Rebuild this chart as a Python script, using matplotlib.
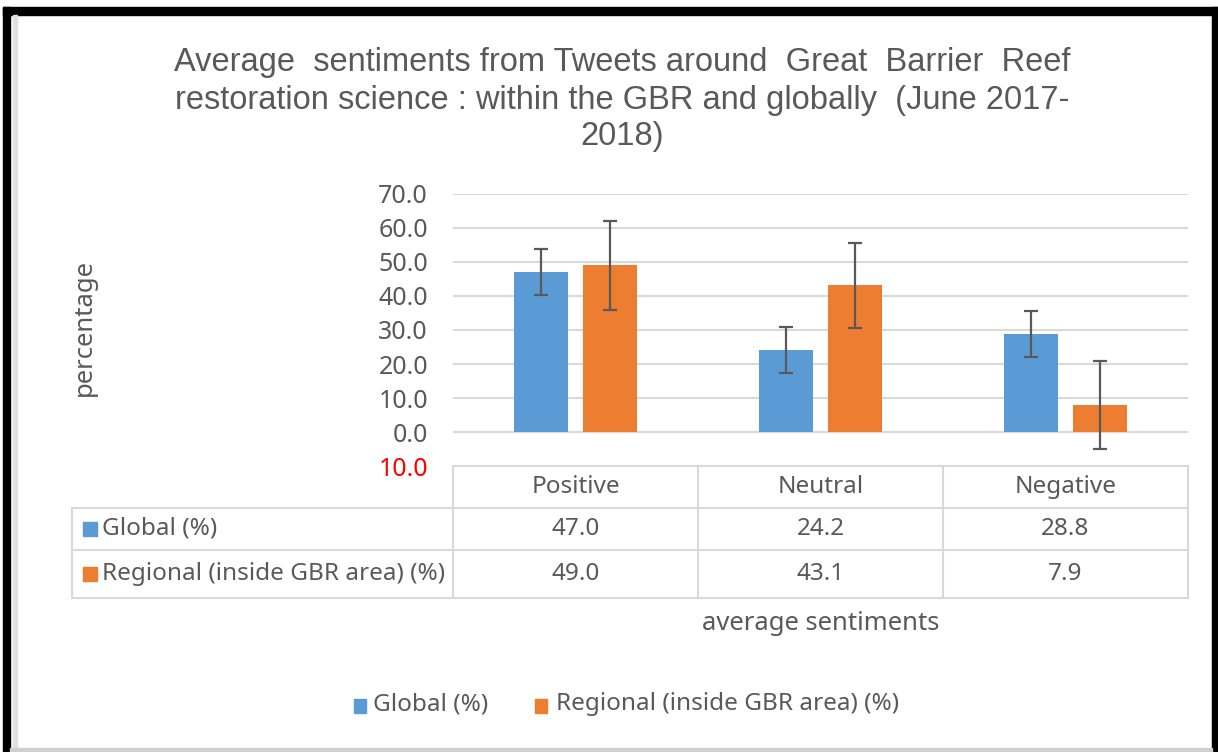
import numpy as np
import matplotlib
matplotlib.use("Agg")
import matplotlib.pyplot as plt
from matplotlib.patches import Rectangle
from matplotlib.lines import Line2D

# data
categories   = ["Positive", "Neutral", "Negative"]
series_names = ["Global (%)", "Regional (inside GBR area) (%)"]
global_vals   = [47.0, 24.2, 28.8]
regional_vals = [49.0, 43.1, 7.9]
global_err    = [6.8, 6.7, 6.8]
regional_err  = [13.0, 12.5, 13.0]
yticks = [-10, 0, 10, 20, 30, 40, 50, 60, 70]

BLUE   = "#5B9BD5"
ORANGE = "#ED7D31"
GRID   = "#D9D9D9"
TXT    = "#595959"
FONT   = "Noto Sans"

W, H = 1218, 752
fig = plt.figure(figsize=(W / 100, H / 100), dpi=100)


def fx(x):
    return x / W


def fy(y):
    return 1 - y / H


# plot area in pixel coords
x0, x1 = 453, 1188
y_top, y_bot = 194, 466
ax = fig.add_axes([fx(x0), fy(y_bot), fx(x1 - x0), (y_bot - y_top) / H])

x = np.arange(len(categories))
bw, off = 0.22, 0.14
ax.bar(x - off, global_vals, bw, color=BLUE, zorder=3)
ax.bar(x + off, regional_vals, bw, color=ORANGE, zorder=3)
ek = dict(fmt="none", ecolor="#595959", elinewidth=1.6, capsize=5, capthick=1.6, zorder=4)
ax.errorbar(x - off, global_vals, yerr=global_err, **ek)
ax.errorbar(x + off, regional_vals, yerr=regional_err, **ek)

ax.set_xlim(-0.5, len(categories) - 0.5)
ax.set_ylim(-10, 70)
ax.set_yticks(yticks)
ax.set_yticklabels([f"{abs(v):.1f}" for v in yticks])
for t, v in zip(ax.get_yticklabels(), yticks):
    t.set_color("red" if v < 0 else TXT)
    t.set_fontfamily(FONT)
    t.set_fontsize(18)
ax.tick_params(axis="y", length=0, pad=18)
ax.set_xticks([])
for s in ax.spines.values():
    s.set_visible(False)
for v in yticks[1:]:
    ax.axhline(v, color=GRID, lw=1.5, zorder=1)

# title
fig.text(fx(622), fy(100),
         "Average  sentiments from Tweets around  Great  Barrier  Reef\n"
         "restoration science : within the GBR and globally  (June 2017-\n2018)",
         ha="center", va="center", fontsize=23.5, color=TXT,
         family="Liberation Sans", linespacing=1.25)

# y label
fig.text(fx(84), fy(328), "percentage", rotation=90, ha="center", va="center",
         fontsize=18.5, color=TXT, family=FONT)

# data table
col_x = [x0 + i * (x1 - x0) / len(categories) for i in range(len(categories) + 1)]
row_y = [466, 508, 550, 598]
tl_x = 72


def hline(xa, xb, y):
    fig.add_artist(Line2D([fx(xa), fx(xb)], [fy(y), fy(y)], color=GRID, lw=1.5))


def vline(x_, ya, yb):
    fig.add_artist(Line2D([fx(x_), fx(x_)], [fy(ya), fy(yb)], color=GRID, lw=1.5))


hline(x0, x1, row_y[0])
for y in row_y[1:]:
    hline(tl_x, x1, y)
for cx in col_x:
    vline(cx, row_y[0], row_y[-1])
vline(tl_x, row_y[1], row_y[-1])

for i, c in enumerate(categories):
    cx = (col_x[i] + col_x[i + 1]) / 2
    fig.text(fx(cx), fy((row_y[0] + row_y[1]) / 2), c, ha="center", va="center",
             fontsize=17.5, color=TXT, family=FONT)

for r, (name, vals, col) in enumerate(zip(series_names, [global_vals, regional_vals], [BLUE, ORANGE])):
    yc = (row_y[r + 1] + row_y[r + 2]) / 2
    fig.add_artist(Rectangle((fx(83), fy(yc + 7)), fx(14), 14 / H, color=col))
    fig.text(fx(102), fy(yc), name, ha="left", va="center", fontsize=17.5,
             color=TXT, family=FONT)
    for i, v in enumerate(vals):
        cx = (col_x[i] + col_x[i + 1]) / 2
        fig.text(fx(cx), fy(yc), f"{v:.1f}", ha="center", va="center",
                 fontsize=17.5, color=TXT, family=FONT)

# x label
fig.text(fx((x0 + x1) / 2), fy(624), "average sentiments", ha="center", va="center",
         fontsize=18.5, color=TXT, family=FONT)

# legend
fig.add_artist(Rectangle((fx(354), fy(713)), fx(12), 14 / H, color=BLUE))
fig.text(fx(373), fy(704), series_names[0], ha="left", va="center", fontsize=17.5,
         color=TXT, family=FONT)
fig.add_artist(Rectangle((fx(535), fy(713)), fx(12), 14 / H, color=ORANGE))
fig.text(fx(556), fy(704), series_names[1], ha="left", va="center", fontsize=17.5,
         color=TXT, family=FONT)

# outer frame (screenshot border)
fig.add_artist(Rectangle((fx(3), 0), fx(7), fy(7), color="black"))
fig.add_artist(Rectangle((fx(3), fy(15)), fx(1215), 8 / H, color="black"))
fig.add_artist(Rectangle((fx(1212), 0), fx(6), fy(7), color="black"))
fig.add_artist(Rectangle((fx(13), 0), fx(4), fy(15), color="#E0E0E0"))
fig.add_artist(Rectangle((fx(10), 0), fx(1202), 4 / H, color="#D0D0D0"))

fig.savefig("out.png", dpi=100)
